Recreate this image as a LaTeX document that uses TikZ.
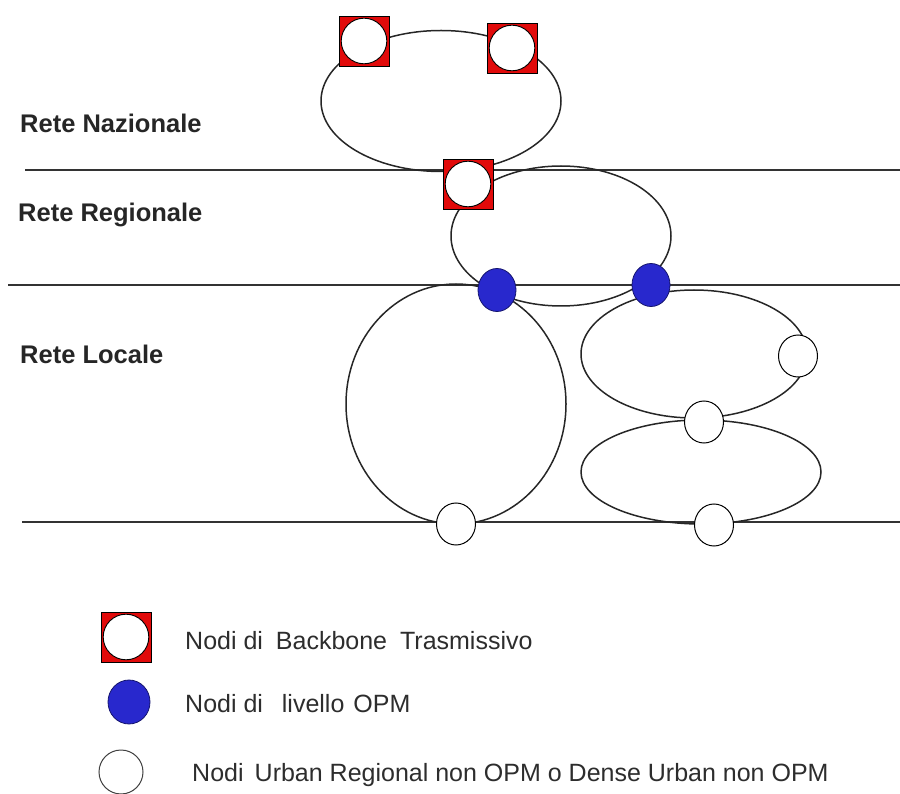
\documentclass[tikz,border=0pt]{standalone}
\usepackage{fontspec}
\setmainfont{Liberation Sans}
\usetikzlibrary{shapes.geometric}
\definecolor{bbred}{RGB}{225,10,10}
\definecolor{opmblue}{RGB}{40,40,205}
\definecolor{opmedge}{RGB}{20,20,110}
\definecolor{txtgray}{RGB}{45,45,45}
\tikzset{
  layerline/.style={draw=black!80, line width=2pt},
  ring/.style={ellipse, draw=black!85, line width=1.5pt, inner sep=0pt, fill=none},
  bbsq/.style={rectangle, draw=black, line width=0.8pt, fill=bbred, minimum size=50, inner sep=0pt,
    path picture={\draw[black, line width=0.9pt, fill=white] (path picture bounding box.center) circle (22.8pt);}},
  opm/.style={ellipse, draw=opmedge, line width=0.8pt, fill=opmblue, minimum width=38, minimum height=43, inner sep=0pt},
  urb/.style={ellipse, draw=black, line width=1pt, fill=white, minimum width=39, minimum height=42, inner sep=0pt},
  layerlabel/.style={anchor=base west, inner sep=0pt, font=\fontsize{25.5}{28}\selectfont\bfseries, text=black!85},
  legendtext/.style={anchor=west, inner sep=0pt, font=\fontsize{25}{28}\selectfont, text=txtgray}
}
\begin{document}
\begin{tikzpicture}[x=1pt,y=-1pt]
\useasboundingbox (0,0) rectangle (900,794);
% layer lines
\coordinate (l1a) at (25,170); \coordinate (l1b) at (900,170);
\coordinate (l2a) at (8,285);  \coordinate (l2b) at (900,285);
\coordinate (l3a) at (22,522); \coordinate (l3b) at (900,522);
\draw[layerline] (l1a) -- (l1b);
\draw[layerline] (l2a) -- (l2b);
\draw[layerline] (l3a) -- (l3b);
% rings
\node[ring, minimum width=240, minimum height=141] (natring) at (441,101) {};
\node[ring, minimum width=220, minimum height=140] (regring) at (561,236) {};
\node[ring, minimum width=220, minimum height=240] (locring) at (456,404) {};
\node[ring, minimum width=226, minimum height=128] (uring) at (694,354) {};
\node[ring, minimum width=240, minimum height=104] (lring) at (701,472) {};
% labels
\node[layerlabel] (lnaz) at (20,133) {Rete Nazionale};
\node[layerlabel] (lreg) at (18,222) {Rete Regionale};
\node[layerlabel] (lloc) at (20,363) {Rete Locale};
% backbone nodes
\node[bbsq] (b1) at (364,41) {};
\node[bbsq] (b2) at (512,48) {};
\node[bbsq] (b3) at (468,184) {};
% OPM nodes
\node[opm] (o1) at (497,290) {};
\node[opm] (o2) at (651,285) {};
% urban nodes
\node[urb] (u1) at (456,524) {};
\node[urb] (u2) at (798,356) {};
\node[urb] (u3) at (704,422) {};
\node[urb] (u4) at (714,525) {};
% legend
\node[bbsq] (legbb) at (126,637) {};
\node[opm, minimum width=42, minimum height=44] (legopm) at (129,702) {};
\node[urb, draw=black!75, minimum width=44, minimum height=44] (legurb) at (121,772) {};
\node[legendtext] (tbb) at (185,641) {Nodi di\hspace{6pt} Backbone\hspace{6pt} Trasmissivo};
\node[legendtext] (topm) at (185,704) {Nodi di\hspace{12pt} livello\hspace{2pt} OPM};
\node[legendtext] (turb) at (192,775) {Nodi\, Urban Regional non OPM o Dense Urban non OPM};
\end{tikzpicture}
\end{document}
